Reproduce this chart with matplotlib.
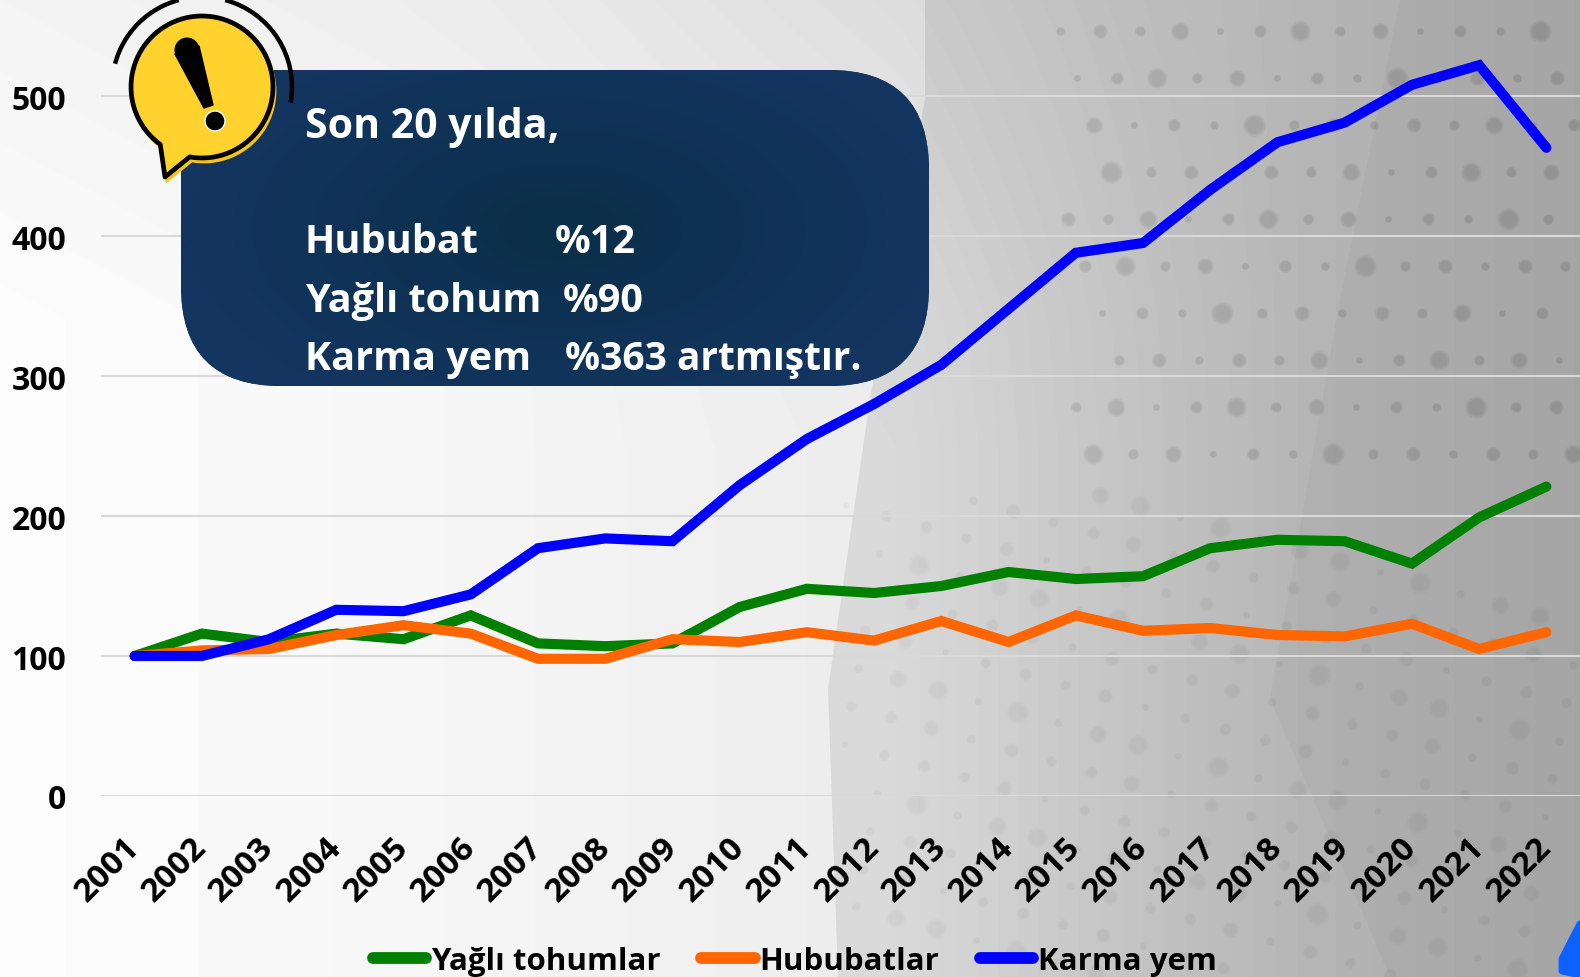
import numpy as np
import matplotlib
matplotlib.use('Agg')
import matplotlib.pyplot as plt
from matplotlib.patches import Polygon, FancyBboxPatch, Circle, Arc

plt.rcParams['font.family'] = ['Open Sans', 'DejaVu Sans']
plt.rcParams['font.weight'] = 'bold'

years = list(range(2001, 2023))
yagli = [100, 116, 110, 116, 112, 129, 109, 107, 109, 135, 148, 145, 150, 160, 155, 157, 177, 183, 182, 166, 199, 221]
hububat = [100, 104, 105, 115, 122, 116, 98, 98, 112, 110, 117, 111, 125, 110, 129, 118, 120, 115, 114, 123, 105, 117]
karma = [100, 100, 112, 133, 132, 144, 177, 184, 182, 222, 255, 280, 308, 348, 388, 395, 433, 467, 481, 508, 522, 463]
y_ticks = [0, 100, 200, 300, 400, 500]
series_names = ['Yağlı tohumlar', 'Hububatlar', 'Karma yem']
series_colors = ['#008000', '#ff6600', '#0000ff']

W, H = 1580, 978
fig = plt.figure(figsize=(W / 100, H / 100), dpi=100)


def add_dot(img, px, py, r, depth):
    x0, x1 = max(int(px - r - 2), 0), min(int(px + r + 3), W)
    y0, y1 = max(int(py - r - 2), 0), min(int(py + r + 3), H)
    if x0 >= x1 or y0 >= y1:
        return
    gx, gy = np.meshgrid(np.arange(x0, x1), np.arange(y0, y1))
    d = np.hypot(gx - px, gy - py) / r
    img[y0:y1, x0:x1] -= depth * np.clip((1 - d ** 2) * 1.6, 0, 1)


# background, in pixel coordinates
bg = fig.add_axes([0, 0, 1, 1], zorder=0)
xx, yy = np.meshgrid(np.arange(W), np.arange(H))
gray = np.interp(xx, [0, 400, 900, 1100, 1300, 1580], [253, 247, 236, 216, 198, 184]).astype(float)
fade_right = np.clip((1300 - xx) / 400, 0, 1)
gray = gray - 9 * np.clip(1 - yy / 320, 0, 1) * fade_right
gray = gray - 6 * np.clip(1 - yy / 450, 0, 1) * np.clip((xx - 500) / 400, 0, 1) * fade_right

size_cycle = [5, 8, 6, 10, 4, 7, 11, 6, 9, 4, 7, 5, 12, 6, 8]
for r, row_y in enumerate(range(32, 470, 47)):
    start = 1060 + (r * 17) % 60
    for c, px in enumerate(range(start, W, 40)):
        s = size_cycle[(r * 4 + c) % len(size_cycle)]
        add_dot(gray, px, row_y, s, 22)
for r in range(13):
    for c in range(19):
        px = 860 + c * 40 - r * 7
        py = 430 + r * 38 + c * 11
        if 490 < py < 978 and 840 < px < W:
            s = size_cycle[(r * 2 + c * 3) % len(size_cycle)]
            add_dot(gray, px, py, s, 10)

bg.imshow(gray, cmap='gray', vmin=0, vmax=255, extent=(0, W, H, 0), aspect='auto')
bg.add_patch(Polygon([(925, 0), (925, 100), (870, 400), (828, 690), (838, 978), (W, 978), (W, 0)],
                     fc='black', alpha=0.08, ec='none'))
bg.add_patch(Polygon([(1400, 0), (1340, 300), (1270, 700), (1390, 978), (W, 978), (W, 0)],
                     fc='black', alpha=0.025, ec='none'))
bg.set_xlim(0, W)
bg.set_ylim(H, 0)
bg.axis('off')

# main chart
ax = fig.add_axes([101 / W, (H - 797) / H, (W - 101) / W, 784 / H], zorder=1)
ax.patch.set_alpha(0)
for vals, name, col in zip([yagli, hububat, karma], series_names, series_colors):
    ax.plot(years, vals, color=col, lw=7.3, label=name, solid_capstyle='round', solid_joinstyle='miter')
ax.set_xlim(2000.5, 2022.5)
ax.set_ylim(0, 560)
ax.set_yticks(y_ticks)
ax.set_xticks(years)
ax.set_xticklabels(years, rotation=45, ha='right', va='center', rotation_mode='anchor')
ax.tick_params(axis='y', length=0, pad=25, labelsize=23)
ax.tick_params(axis='x', length=0, pad=33, labelsize=24)
ax.grid(axis='y', color='#d9d9d9', lw=1.5)
ax.set_axisbelow(True)
for s in ax.spines.values():
    s.set_visible(False)

leg = fig.legend(*ax.get_legend_handles_labels(), loc='center', bbox_to_anchor=(795 / W, (H - 962) / H),
                 ncol=3, frameon=False, fontsize=22.5, handlelength=1.7, handletextpad=0.16,
                 columnspacing=1.3, borderpad=0, borderaxespad=0)
for line in leg.get_lines():
    line.set_linewidth(8.5)

# overlay: note box, warning icon, corner mark
top = fig.add_axes([0, 0, 1, 1], zorder=3)
top.patch.set_alpha(0)
box = FancyBboxPatch((281, 171), 548, 116, boxstyle='round,pad=100,rounding_size=100', fc='#123560', ec='none')
top.add_patch(box)
bx, by = np.meshgrid(np.linspace(181, 929, 300), np.linspace(71, 387, 150))
dist = np.clip(np.hypot((bx - 560) / 370, (by - 230) / 200), 0, 1)
grad = np.zeros(bx.shape + (3,))
for i, (a, b) in enumerate(zip((10, 47, 72), (19, 53, 96))):
    grad[..., i] = (a + (b - a) * dist) / 255
im = top.imshow(grad, extent=(181, 929, 387, 71), aspect='auto', zorder=2)
im.set_clip_path(box)

lines = [(305, 138, 'Son 20 yılda,', 29.5), (305, 253, 'Hububat', 28.5), (555, 253, '%12', 28.5),
         (305, 312, 'Yağlı tohum', 28.5), (563, 312, '%90', 28.5),
         (305, 370, 'Karma yem', 28.5), (565, 370, '%363 artmıştır.', 28)]
for tx, ty, t, fs in lines:
    top.text(tx, ty, t, color='white', fontsize=fs, va='baseline', ha='left', zorder=3)

# speech bubble with exclamation mark
cx, cy, rad = 202, 88, 71
a0 = np.radians(np.linspace(126, 460, 90))
outline = [(cx + rad * np.cos(t), cy + rad * np.sin(t)) for t in a0]
bubble_pts = outline + [(165, 178)]
top.add_patch(Polygon([(x + 2, y + 4) for x, y in bubble_pts], closed=True, fc='#f5c518', ec='#f5c518',
                      lw=2, zorder=4))
top.add_patch(Polygon(bubble_pts, closed=True, fc='#ffd22e', ec='black', lw=3.4, joinstyle='round', zorder=4))
top.add_patch(Arc((cx, cy), 180, 180, theta1=195, theta2=255, color='black', lw=3.2, zorder=4))
top.add_patch(Arc((cx, cy), 180, 180, theta1=-75, theta2=10, color='black', lw=3.2, zorder=4))
top.add_patch(Circle((187, 51), 12.5, fc='black', ec='none', zorder=5))
top.add_patch(Polygon([(175, 55), (199, 47), (213, 106), (204, 109)], closed=True,
                      fc='black', ec='black', lw=1, joinstyle='round', zorder=5))
top.add_patch(Circle((215, 122), 10, fc='black', ec='white', lw=1, zorder=5))

corner = Polygon([(W, 925), (1562, 960), (1562, 972), (W, 976)], closed=True, fc='#0d62ff',
                 ec='#0d62ff', lw=5, joinstyle='round', zorder=4)
top.add_patch(corner)
top.set_xlim(0, W)
top.set_ylim(H, 0)
top.axis('off')

fig.savefig('out.png', dpi=100)
plt.close()
